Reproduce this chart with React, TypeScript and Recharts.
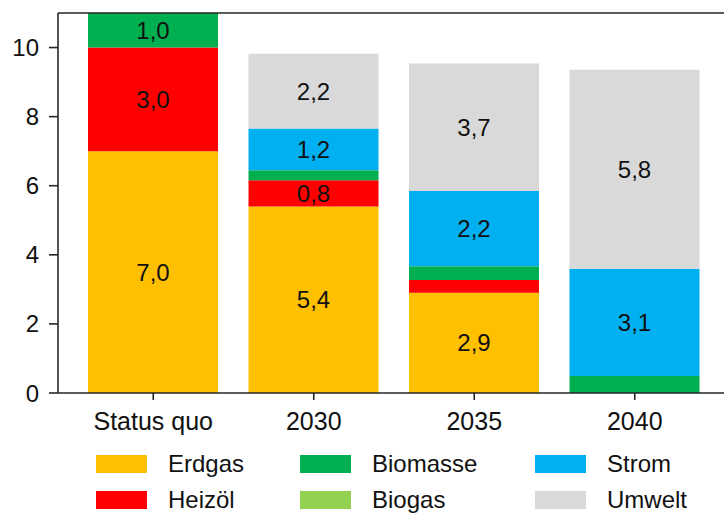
import { BarChart, Bar, XAxis, YAxis, LabelList, ReferenceLine } from 'recharts'

const categories = ['Status quo', '2030', '2035', '2040']
const erdgas = [7.0, 5.4, 2.9, 0]
const heizoel = [3.0, 0.76, 0.37, 0]
const biomasse = [1.0, 0.29, 0.4, 0.49]
const biogas = [0, 0, 0, 0]
const strom = [0, 1.21, 2.18, 3.11]
const umwelt = [0, 2.16, 3.69, 5.76]
const yTicks = [0, 2, 4, 6, 8, 10]

const series = [
  { key: 'Erdgas', values: erdgas, color: '#FFC000' },
  { key: 'Heizöl', values: heizoel, color: '#FF0000' },
  { key: 'Biomasse', values: biomasse, color: '#00B050' },
  { key: 'Biogas', values: biogas, color: '#92D050' },
  { key: 'Strom', values: strom, color: '#00B0F0' },
  { key: 'Umwelt', values: umwelt, color: '#D9D9D9' },
]

const data = categories.map((c, i) => {
  const row: any = { name: c }
  series.forEach(s => { row[s.key] = s.values[i] })
  return row
})

const FONT = '"Liberation Sans", Arial, sans-serif'
const AXIS = '#262626'
const TXT = '#111'

function SegLabel({ x, y, width, height, value }: any) {
  if (value == null || value < 0.6) return null
  return (
    <text x={x + width / 2} y={y + height / 2} textAnchor="middle" dominantBaseline="central"
      fontSize={24} fill={TXT} fontFamily={FONT}>
      {Number(value).toFixed(1).replace('.', ',')}
    </text>
  )
}

// legend order as in the original (3 columns, column-major)
const legendCols = [[0, 1], [2, 3], [4, 5]]
const colLeft = [96, 300, 535]
const rowTop = [455, 491]

export default function App() {
  return (
    <div style={{ position: 'absolute', left: 0, top: 0, width: 724, height: 515, overflow: 'hidden', background: '#fff', fontFamily: FONT }}>
      <BarChart width={740} height={515} data={data} margin={{ top: 13, right: 10, left: 0, bottom: 77 }} barSize={130}>
        <XAxis dataKey="name" padding={{ left: 15, right: 15 }} height={45}
          axisLine={{ stroke: AXIS, strokeWidth: 1.6 }} tickLine={{ stroke: AXIS, strokeWidth: 1.6 }}
          tickSize={7} tickMargin={12} tick={{ fill: TXT, fontSize: 25, fontFamily: FONT }} />
        <YAxis domain={[0, 11]} ticks={yTicks} width={58} allowDataOverflow
          axisLine={{ stroke: AXIS, strokeWidth: 1.6 }} tickLine={{ stroke: AXIS, strokeWidth: 1.6 }}
          tickSize={9} tickMargin={10} tick={{ fill: TXT, fontSize: 24, fontFamily: FONT }} />
        <ReferenceLine y={11} stroke={AXIS} strokeWidth={1.6} ifOverflow="extendDomain" />
        {series.map(s => (
          <Bar key={s.key} dataKey={s.key} stackId="a" fill={s.color} isAnimationActive={false}>
            <LabelList dataKey={s.key} content={<SegLabel />} />
          </Bar>
        ))}
      </BarChart>
      {legendCols.map((col, ci) => col.map((si, ri) => (
        <div key={series[si].key} style={{ position: 'absolute', left: colLeft[ci], top: rowTop[ri], display: 'flex', alignItems: 'center', height: 18 }}>
          <div style={{ width: 51, height: 18, background: series[si].color }} />
          <span style={{ marginLeft: 21, fontSize: 24, color: TXT, lineHeight: '18px' }}>{series[si].key}</span>
        </div>
      )))}
    </div>
  )
}
